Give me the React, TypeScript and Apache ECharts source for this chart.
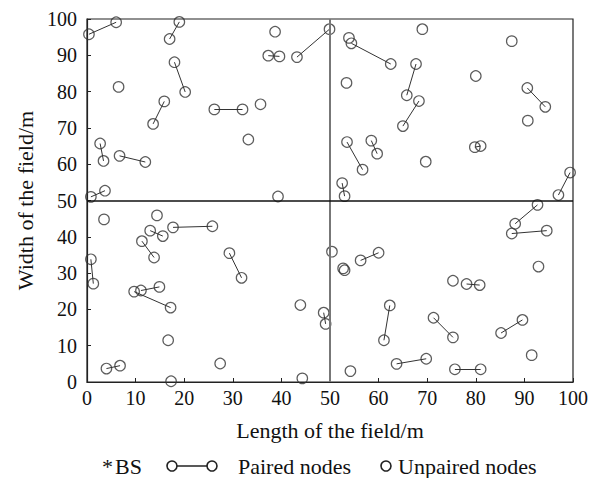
import React, { useEffect, useRef } from "react";
import * as echarts from "echarts";

const xTicks = [0, 10, 20, 30, 40, 50, 60, 70, 80, 90, 100];
const yTicks = [0, 10, 20, 30, 40, 50, 60, 70, 80, 90, 100];

const baseStation: [number, number] = [50, 50];

// pairs of nodes joined by a line
const pairedNodes: [number, number][][] = [
  [[0.4, 95.8], [6.0, 99.1]],
  [[19.0, 99.2], [17.0, 94.5]],
  [[18.0, 88.1], [20.2, 79.9]],
  [[15.9, 77.3], [13.6, 71.1]],
  [[2.7, 65.7], [3.4, 60.9]],
  [[6.7, 62.3], [12.0, 60.6]],
  [[0.8, 51.0], [3.7, 52.7]],
  [[37.3, 89.9], [39.6, 89.7]],
  [[43.2, 89.5], [49.9, 97.2]],
  [[26.2, 75.1], [32.0, 75.1]],
  [[54.4, 93.3], [62.5, 87.6]],
  [[67.7, 87.6], [65.8, 79.0]],
  [[68.3, 77.4], [65.0, 70.5]],
  [[53.5, 66.1], [56.7, 58.5]],
  [[58.5, 66.5], [59.7, 62.9]],
  [[52.5, 54.8], [53.0, 51.2]],
  [[90.6, 81.0], [94.3, 75.8]],
  [[79.8, 64.7], [81.0, 65.0]],
  [[99.4, 57.7], [97.0, 51.5]],
  [[13.0, 41.7], [15.6, 40.2]],
  [[17.7, 42.6], [25.8, 42.9]],
  [[11.3, 38.8], [13.8, 34.3]],
  [[0.8, 33.8], [1.3, 27.1]],
  [[29.3, 35.5], [31.8, 28.7]],
  [[11.1, 25.2], [14.9, 26.2]],
  [[9.7, 24.9], [17.2, 20.5]],
  [[4.0, 3.7], [6.8, 4.5]],
  [[48.7, 19.1], [49.1, 16.0]],
  [[92.7, 48.8], [88.1, 43.6]],
  [[87.4, 40.9], [94.6, 41.7]],
  [[56.3, 33.5], [60.0, 35.6]],
  [[78.1, 27.0], [80.8, 26.7]],
  [[62.3, 21.1], [61.1, 11.5]],
  [[71.3, 17.7], [75.3, 12.3]],
  [[89.6, 17.1], [85.2, 13.5]],
  [[63.7, 5.0], [69.8, 6.4]],
  [[75.7, 3.5], [81.0, 3.5]],
];

const unpairedNodes: [number, number][] = [
  [6.5, 81.3], [38.7, 96.5], [35.7, 76.5], [33.2, 66.8], [39.3, 51.1],
  [53.9, 94.8], [69.0, 97.2], [53.4, 82.4], [69.7, 60.7], [87.4, 93.9],
  [80.0, 84.3], [90.7, 72.0],
  [3.5, 44.8], [14.4, 45.9], [50.4, 35.9], [16.7, 11.5], [17.3, 0.2],
  [27.4, 5.1], [43.9, 21.2], [44.3, 1.0],
  [52.7, 31.3], [53.0, 30.8], [92.9, 31.8], [75.3, 27.9], [91.5, 7.4],
  [54.2, 3.0],
];

const FONT = "'Liberation Serif', 'Times New Roman', serif";

export default function App() {
  const ref = useRef<HTMLDivElement>(null);

  useEffect(() => {
    if (!ref.current) return;
    const chart = echarts.init(ref.current, undefined, { renderer: "svg" });

    const pairedPoints = pairedNodes.flat();
    const circleStyle = { color: "transparent", borderColor: "#333", borderWidth: 1.2 };

    const legendY = 466;
    const legendText = (text: string, x: number, size = 22) => ({
      type: "text",
      x,
      y: legendY,
      style: { text, fontFamily: FONT, fontSize: size, fill: "#111", verticalAlign: "middle", align: "left" },
    });
    const legendCircle = (cx: number) => ({
      type: "circle",
      shape: { cx, cy: legendY, r: 5 },
      style: { fill: "#fff", stroke: "#222", lineWidth: 1.6 },
    });

    chart.setOption({
      animation: false,
      backgroundColor: "#fff",
      grid: {
        left: 87,
        right: 29,
        top: 19,
        bottom: 96,
        show: true,
        borderColor: "#222",
        borderWidth: 1.2,
      },
      xAxis: {
        type: "value",
        min: xTicks[0],
        max: xTicks[xTicks.length - 1],
        interval: 10,
        name: "Length of the field/m",
        nameLocation: "middle",
        nameGap: 37,
        nameTextStyle: { fontFamily: FONT, fontSize: 22, color: "#111" },
        axisLine: { show: true, lineStyle: { color: "#222", width: 1.2 } },
        axisTick: { show: true, inside: true, length: 4, lineStyle: { color: "#222" } },
        axisLabel: { fontFamily: FONT, fontSize: 20, color: "#111", margin: 6 },
        splitLine: { show: false },
      },
      yAxis: {
        type: "value",
        min: yTicks[0],
        max: yTicks[yTicks.length - 1],
        interval: 10,
        name: "Width of the field/m",
        nameLocation: "middle",
        nameGap: 48,
        nameTextStyle: { fontFamily: FONT, fontSize: 22, color: "#111" },
        axisLine: { show: true, lineStyle: { color: "#222", width: 1.2 } },
        axisTick: { show: true, inside: true, length: 4, lineStyle: { color: "#222" } },
        axisLabel: { fontFamily: FONT, fontSize: 20, color: "#111", margin: 10 },
        splitLine: { show: false },
      },
      series: [
        {
          type: "lines",
          coordinateSystem: "cartesian2d",
          silent: true,
          lineStyle: { color: "#333", width: 1, opacity: 1 },
          data: pairedNodes.map((p) => ({ coords: p })),
          z: 2,
          markLine: {
            silent: true,
            symbol: "none",
            label: { show: false },
            data: [
              { xAxis: baseStation[0], lineStyle: { color: "#777", width: 2, type: "solid" } },
              { yAxis: baseStation[1], lineStyle: { color: "#111", width: 1.5, type: "solid" } },
            ],
          },
        },
        {
          type: "scatter",
          name: "Paired nodes",
          symbol: "circle",
          symbolSize: 10.5,
          itemStyle: circleStyle,
          data: pairedPoints,
          z: 3,
        },
        {
          type: "scatter",
          name: "Unpaired nodes",
          symbol: "circle",
          symbolSize: 10.5,
          itemStyle: circleStyle,
          data: unpairedNodes,
          z: 3,
        },
        {
          type: "scatter",
          name: "BS",
          symbol: "none",
          data: [baseStation],
          label: {
            show: true,
            position: "inside",
            formatter: "*",
            fontFamily: FONT,
            fontSize: 22,
            color: "#111",
            offset: [0, 4],
          },
          z: 4,
        },
      ],
      graphic: [
        legendText("*", 102, 22),
        legendText("BS", 115),
        {
          type: "line",
          shape: { x1: 172, y1: legendY, x2: 212, y2: legendY },
          style: { stroke: "#222", lineWidth: 1.6 },
        },
        legendCircle(172),
        legendCircle(212),
        legendText("Paired nodes", 238),
        legendCircle(386),
        legendText("Unpaired nodes", 398),
      ],
    });

    return () => chart.dispose();
  }, []);

  return (
    <div
      ref={ref}
      style={{ position: "fixed", left: 0, top: 0, width: 602, height: 478, background: "#fff" }}
    />
  );
}
